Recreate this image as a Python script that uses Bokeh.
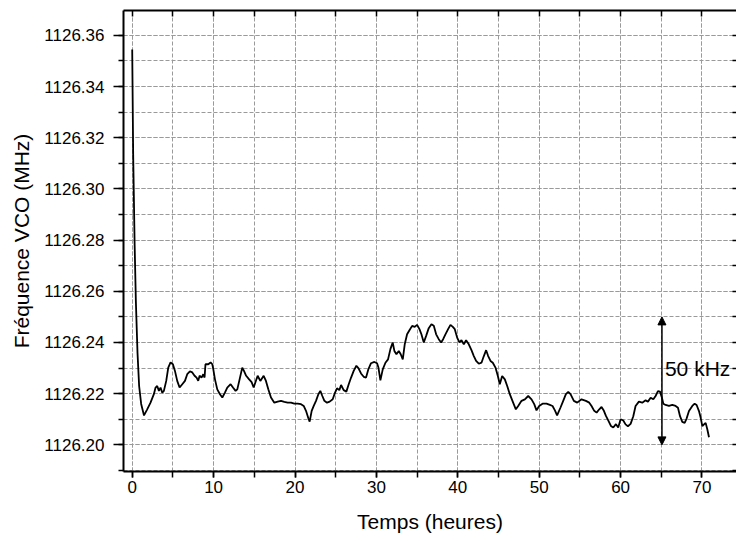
import numpy as np
from bokeh.plotting import figure
from bokeh.models import (Range1d, LinearAxis, SingleIntervalTicker, FixedTicker,
                          Arrow, NormalHead, Label, PrintfTickFormatter)
from bokeh.embed import file_html
from bokeh.resources import INLINE

# ---- data ----
time_h = [
    0.00, 0.12, 0.30, 0.45, 0.65, 0.85, 1.10, 1.45, 1.84, 2.25,
    2.66, 2.87, 3.07, 3.28, 3.48, 3.69, 3.89, 4.18, 4.43, 4.71,
    5.00, 5.25, 5.53, 5.82, 6.15, 6.48, 6.76, 7.09, 7.38, 7.66,
    7.91, 8.11, 8.28, 8.52, 8.73, 8.89, 9.00, 9.34, 9.63, 9.84,
    9.96, 10.16, 10.45, 10.78, 11.07, 11.39, 11.68, 12.09, 12.38, 12.70,
    12.91, 13.20, 13.52, 13.73, 14.00, 14.34, 14.67, 14.92, 15.41, 15.74,
    16.15, 16.43, 16.72, 17.05, 17.46, 17.87, 18.28, 18.69, 19.10, 19.51,
    19.92, 20.33, 20.74, 21.07, 21.35, 21.64, 21.80, 22.05, 22.30, 22.58,
    22.87, 23.11, 23.36, 23.61, 23.93, 24.26, 24.63, 24.92, 25.16, 25.45,
    25.66, 25.98, 26.31, 26.60, 26.89, 27.21, 27.54, 27.79, 28.11, 28.44,
    28.73, 29.02, 29.34, 29.75, 30.08, 30.25, 30.49, 30.78, 31.11, 31.43,
    31.72, 32.00, 32.21, 32.46, 32.75, 32.99, 33.24, 33.48, 33.77, 34.06,
    34.39, 34.71, 35.00, 35.29, 35.53, 35.82, 36.11, 36.43, 36.76, 37.05,
    37.34, 37.66, 37.95, 38.20, 38.48, 38.81, 39.10, 39.39, 39.63, 39.92,
    40.20, 40.45, 40.74, 41.02, 41.35, 41.68, 41.97, 42.25, 42.58, 42.91,
    43.20, 43.48, 43.73, 44.02, 44.30, 44.63, 44.92, 45.16, 45.45, 45.78,
    46.07, 46.39, 46.80, 47.13, 47.42, 47.83, 48.24, 48.65, 49.06, 49.39,
    49.67, 50.00, 50.41, 50.90, 51.31, 51.64, 51.93, 52.20, 52.62, 52.95,
    53.28, 53.57, 53.85, 54.26, 54.67, 55.20, 55.74, 56.15, 56.43, 56.76,
    57.05, 57.38, 57.66, 57.95, 58.20, 58.48, 58.81, 59.10, 59.43, 59.71,
    60.00, 60.33, 60.61, 60.90, 61.23, 61.56, 61.84, 62.25, 62.66, 63.07,
    63.36, 63.69, 64.02, 64.30, 64.59, 64.84, 65.08, 65.25, 65.53, 65.94,
    66.35, 66.76, 67.05, 67.30, 67.58, 67.87, 68.11, 68.40, 68.81, 69.10,
    69.34, 69.63, 69.84, 70.04, 70.25, 70.45, 70.66, 70.86,
]
freq_mhz = [
    1126.3545, 1126.3130, 1126.2780, 1126.2560, 1126.2360, 1126.2230, 1126.2160, 1126.2115, 1126.2139, 1126.2165,
    1126.2198, 1126.2224, 1126.2230, 1126.2211, 1126.2224, 1126.2204, 1126.2211, 1126.2250, 1126.2302, 1126.2322,
    1126.2315, 1126.2289, 1126.2250, 1126.2224, 1126.2237, 1126.2250, 1126.2276, 1126.2287, 1126.2283, 1126.2270,
    1126.2263, 1126.2250, 1126.2270, 1126.2263, 1126.2276, 1126.2263, 1126.2315, 1126.2315, 1126.2322, 1126.2315,
    1126.2296, 1126.2257, 1126.2217, 1126.2198, 1126.2185, 1126.2204, 1126.2224, 1126.2237, 1126.2224, 1126.2211,
    1126.2217, 1126.2257, 1126.2302, 1126.2289, 1126.2270, 1126.2257, 1126.2245, 1126.2224, 1126.2270, 1126.2250,
    1126.2270, 1126.2250, 1126.2217, 1126.2185, 1126.2165, 1126.2169, 1126.2172, 1126.2168, 1126.2165, 1126.2165,
    1126.2161, 1126.2161, 1126.2159, 1126.2152, 1126.2133, 1126.2104, 1126.2091, 1126.2133, 1126.2152, 1126.2172,
    1126.2198, 1126.2211, 1126.2191, 1126.2172, 1126.2165, 1126.2169, 1126.2178, 1126.2204, 1126.2221, 1126.2214,
    1126.2234, 1126.2214, 1126.2208, 1126.2237, 1126.2263, 1126.2289, 1126.2309, 1126.2300, 1126.2279, 1126.2266,
    1126.2263, 1126.2296, 1126.2319, 1126.2324, 1126.2319, 1126.2302, 1126.2252, 1126.2295, 1126.2321, 1126.2334,
    1126.2374, 1126.2400, 1126.2367, 1126.2354, 1126.2367, 1126.2354, 1126.2334, 1126.2393, 1126.2432, 1126.2448,
    1126.2465, 1126.2461, 1126.2469, 1126.2452, 1126.2432, 1126.2400, 1126.2426, 1126.2456, 1126.2471, 1126.2465,
    1126.2432, 1126.2413, 1126.2400, 1126.2413, 1126.2432, 1126.2452, 1126.2469, 1126.2461, 1126.2452, 1126.2419,
    1126.2400, 1126.2409, 1126.2393, 1126.2409, 1126.2393, 1126.2370, 1126.2347, 1126.2328, 1126.2317, 1126.2321,
    1126.2347, 1126.2370, 1126.2347, 1126.2328, 1126.2321, 1126.2302, 1126.2269, 1126.2237, 1126.2269, 1126.2256,
    1126.2230, 1126.2198, 1126.2165, 1126.2139, 1126.2152, 1126.2172, 1126.2178, 1126.2191, 1126.2178, 1126.2159,
    1126.2135, 1126.2152, 1126.2161, 1126.2161, 1126.2156, 1126.2152, 1126.2135, 1126.2115, 1126.2146, 1126.2172,
    1126.2198, 1126.2207, 1126.2198, 1126.2172, 1126.2165, 1126.2178, 1126.2172, 1126.2165, 1126.2152, 1126.2133,
    1126.2126, 1126.2139, 1126.2148, 1126.2133, 1126.2113, 1126.2096, 1126.2074, 1126.2068, 1126.2081, 1126.2068,
    1126.2100, 1126.2095, 1126.2080, 1126.2073, 1126.2082, 1126.2112, 1126.2152, 1126.2169, 1126.2165, 1126.2174,
    1126.2169, 1126.2184, 1126.2178, 1126.2191, 1126.2210, 1126.2208, 1126.2184, 1126.2161, 1126.2156, 1126.2152,
    1126.2156, 1126.2152, 1126.2145, 1126.2112, 1126.2090, 1126.2086, 1126.2103, 1126.2132, 1126.2152, 1126.2161,
    1126.2156, 1126.2132, 1126.2106, 1126.2073, 1126.2080, 1126.2086, 1126.2060, 1126.2030,
]

# tick positions for the unlabeled top / right frame ticks
top_ticks = list(range(0, 75, 5))
right_ticks = [round(v, 2) for v in np.arange(1126.19, 1126.375, 0.01)]

# annotation: 50 kHz span marker
span_x = 65.08
span_low = 1126.20
span_high = 1126.25
span_text = "50 kHz"

FONT = "Liberation Sans"

p = figure(width=736, height=535, output_backend="svg", toolbar_location=None,
           x_range=Range1d(-1.07, 74.24), y_range=Range1d(1126.1896, 1126.3697),
           min_border_left=123, min_border_right=0, min_border_top=10,
           min_border_bottom=64)
p.outline_line_color = None
p.background_fill_color = "white"

xt = SingleIntervalTicker(interval=10, num_minor_ticks=2)
yt = SingleIntervalTicker(interval=0.02, num_minor_ticks=2)
p.xaxis.ticker = xt
p.yaxis.ticker = yt
p.yaxis.formatter = PrintfTickFormatter(format="%.2f")

for ax in (p.xaxis, p.yaxis):
    ax.axis_line_width = 2
    ax.axis_line_color = "black"
    ax.major_tick_line_color = "black"
    ax.minor_tick_line_color = "black"
    ax.major_tick_line_width = 1.5
    ax.minor_tick_line_width = 1.5
    ax.major_tick_in = 0
    ax.minor_tick_in = 0
    ax.major_label_text_font = FONT
    ax.major_label_text_font_size = "17px"
    ax.major_label_text_color = "black"
    ax.axis_label_text_font = FONT
    ax.axis_label_text_font_size = "21px"
    ax.axis_label_text_font_style = "normal"
    ax.axis_label_text_color = "black"

p.xaxis.major_tick_out = 6
p.xaxis.minor_tick_out = 6
p.xaxis.major_label_standoff = 3
p.xaxis.axis_label = "Temps (heures)"
p.xaxis.axis_label_standoff = 14

p.yaxis.major_tick_out = 10
p.yaxis.minor_tick_out = 5
p.yaxis.major_label_standoff = 9
p.yaxis.axis_label = "Fréquence VCO (MHz)"
p.yaxis.axis_label_standoff = 8

for g in (p.xgrid, p.ygrid):
    g.grid_line_color = "#9a9a9a"
    g.grid_line_dash = "4 2"
    g.grid_line_width = 1
    g.minor_grid_line_color = "#9a9a9a"
    g.minor_grid_line_dash = "4 2"
    g.minor_grid_line_width = 1
p.xgrid.ticker = xt
p.ygrid.ticker = yt

top = LinearAxis(ticker=FixedTicker(ticks=[], minor_ticks=top_ticks),
                 major_tick_in=0, major_tick_out=0, minor_tick_in=6, minor_tick_out=0,
                 major_label_standoff=0, axis_line_width=2, axis_line_color="black",
                 minor_tick_line_width=1.5, minor_tick_line_color="black")
p.add_layout(top, "above")

right = LinearAxis(ticker=FixedTicker(ticks=[], minor_ticks=right_ticks),
                   major_tick_in=0, major_tick_out=0, minor_tick_in=4, minor_tick_out=0,
                   major_label_standoff=0, axis_line_color=None,
                   minor_tick_line_width=1.5, minor_tick_line_color="black")
p.add_layout(right, "right")

p.line(time_h, freq_mhz, line_color="black", line_width=1.8)

p.add_layout(Arrow(start=NormalHead(size=8, fill_color="black", line_color="black"),
                   end=NormalHead(size=8, fill_color="black", line_color="black"),
                   x_start=span_x, y_start=span_low, x_end=span_x, y_end=span_high,
                   line_color="black", line_width=1.5))
p.add_layout(Label(x=span_x, y=(span_low + span_high) / 2 + 0.005, x_offset=3,
                   text=span_text, text_font=FONT, text_font_size="21px",
                   text_baseline="middle", text_color="black"))

open("out.html", "w").write(file_html(p, INLINE))
